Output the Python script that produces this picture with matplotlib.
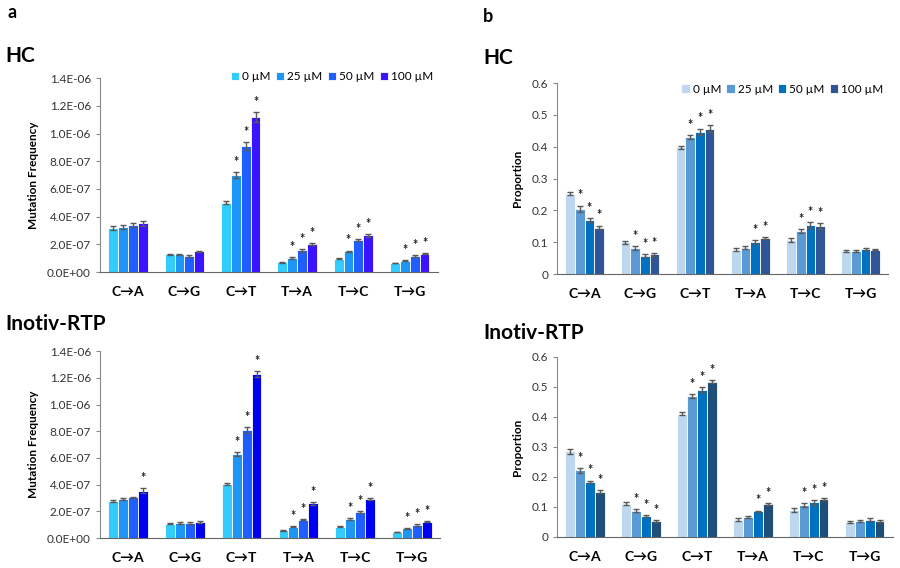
import numpy as np
import matplotlib.pyplot as plt
from matplotlib.ticker import FuncFormatter

plt.rcParams['font.family'] = ['Lato', 'DejaVu Sans']

mutations = ['C\u2192A', 'C\u2192G', 'C\u2192T', 'T\u2192A', 'T\u2192C', 'T\u2192G']
doses = ['0 \u00b5M', '25 \u00b5M', '50 \u00b5M', '100 \u00b5M']

# panel a: mutation frequency (x1e-7), rows = dose, cols = mutation type
hc_freq = np.array([
    [3.17, 1.27, 5.02, 0.70, 0.96, 0.65],
    [3.27, 1.27, 7.00, 1.01, 1.51, 0.82],
    [3.39, 1.18, 9.09, 1.56, 2.33, 1.15],
    [3.51, 1.49, 11.18, 2.02, 2.64, 1.32]]) * 1e-7
hc_freq_err = np.array([
    [0.12, 0.07, 0.08, 0.04, 0.03, 0.03],
    [0.15, 0.07, 0.20, 0.05, 0.04, 0.03],
    [0.15, 0.06, 0.28, 0.10, 0.07, 0.05],
    [0.15, 0.06, 0.38, 0.06, 0.08, 0.05]]) * 1e-7
rtp_freq = np.array([
    [2.79, 1.07, 4.04, 0.57, 0.85, 0.45],
    [2.92, 1.12, 6.28, 0.85, 1.42, 0.72],
    [3.04, 1.12, 8.08, 1.37, 1.95, 0.97],
    [3.54, 1.20, 12.27, 2.59, 2.92, 1.22]]) * 1e-7
rtp_freq_err = np.array([
    [0.06, 0.04, 0.05, 0.03, 0.04, 0.02],
    [0.06, 0.05, 0.15, 0.04, 0.06, 0.03],
    [0.06, 0.05, 0.22, 0.05, 0.07, 0.05],
    [0.20, 0.08, 0.22, 0.12, 0.06, 0.05]]) * 1e-7

# panel b: proportion
hc_prop = np.array([
    [0.252, 0.100, 0.398, 0.077, 0.107, 0.073],
    [0.205, 0.081, 0.431, 0.083, 0.135, 0.071],
    [0.170, 0.058, 0.447, 0.100, 0.154, 0.079],
    [0.146, 0.062, 0.457, 0.114, 0.151, 0.077]])
hc_prop_err = np.array([
    [0.005, 0.005, 0.005, 0.004, 0.005, 0.003],
    [0.010, 0.006, 0.007, 0.004, 0.006, 0.003],
    [0.006, 0.005, 0.010, 0.007, 0.010, 0.003],
    [0.006, 0.004, 0.010, 0.003, 0.008, 0.003]])
rtp_prop = np.array([
    [0.285, 0.110, 0.411, 0.058, 0.090, 0.049],
    [0.222, 0.088, 0.469, 0.067, 0.106, 0.054],
    [0.184, 0.070, 0.491, 0.085, 0.116, 0.058],
    [0.151, 0.052, 0.518, 0.109, 0.126, 0.053]])
rtp_prop_err = np.array([
    [0.007, 0.005, 0.006, 0.005, 0.007, 0.004],
    [0.008, 0.006, 0.006, 0.003, 0.007, 0.004],
    [0.004, 0.004, 0.008, 0.003, 0.008, 0.004],
    [0.004, 0.003, 0.006, 0.003, 0.004, 0.003]])

# significance stars (1 = star)
hc_freq_sig = np.array([
    [0, 0, 0, 0, 0, 0],
    [0, 0, 1, 1, 1, 1],
    [0, 0, 1, 1, 1, 1],
    [0, 0, 1, 1, 1, 1]])
rtp_freq_sig = np.array([
    [0, 0, 0, 0, 0, 0],
    [0, 0, 1, 1, 1, 1],
    [0, 0, 1, 1, 1, 1],
    [1, 0, 1, 1, 1, 1]])
prop_sig = np.array([
    [0, 0, 0, 0, 0, 0],
    [1, 1, 1, 0, 1, 0],
    [1, 1, 1, 1, 1, 0],
    [1, 1, 1, 1, 1, 0]])

col_a_hc = ['#33CCFF', '#1E96F5', '#1F5EFF', '#3A14FF']
col_a_rtp = ['#33CCFF', '#1E96F5', '#1F5EFF', '#0000F0']
col_b_hc = ['#BDD7EE', '#5B9BD5', '#0070C0', '#2F5597']
col_b_rtp = ['#BDD7EE', '#5B9BD5', '#0070C0', '#1F4E79']


def sci(v, pos):
    if v == 0:
        return '0.0E+00'
    e = int(np.floor(np.log10(abs(v))))
    m = v / 10**e
    return '%.1fE%+03d' % (m, e)


def draw(ax, vals, errs, sig, colors, ylim, yticks, ylabel, fmt, legend_anchor):
    x = np.arange(len(mutations))
    w = 0.175
    for i in range(len(doses)):
        xs = x + (i - 1.5) * w
        ax.bar(xs, vals[i], w, color=colors[i], edgecolor='white', linewidth=0.6,
               label=doses[i], zorder=2)
        ax.errorbar(xs, vals[i], yerr=errs[i], fmt='none', ecolor='#595959',
                    elinewidth=1, capsize=2.5, capthick=1, zorder=3)
        for j in range(len(mutations)):
            if sig[i, j]:
                ax.annotate('*', (xs[j], vals[i, j] + errs[i, j]), xytext=(0, 3),
                            textcoords='offset points', ha='center', va='bottom',
                            fontsize=9, fontweight='bold', color='#222222')
    ax.set_xlim(-0.5, len(mutations) - 0.5)
    ax.set_ylim(*ylim)
    ax.set_yticks(yticks)
    ax.yaxis.set_major_formatter(FuncFormatter(fmt))
    ax.set_xticks(x)
    ax.set_xticklabels(mutations, fontweight='bold', fontsize=10)
    ax.tick_params(axis='x', length=0, pad=10)
    ax.tick_params(axis='y', length=3, labelsize=8.5, color='#888888', labelcolor='#333333')
    for s in ['top', 'right']:
        ax.spines[s].set_visible(False)
    ax.spines['left'].set_color('#888888')
    ax.spines['bottom'].set_color('#666666')
    ax.set_ylabel(ylabel, fontsize=8.5, fontweight='bold', labelpad=6)
    ax.legend(loc='lower right', bbox_to_anchor=legend_anchor, ncol=4, frameon=False,
              fontsize=8.5, handlelength=0.7, handleheight=0.7, handletextpad=0.25,
              columnspacing=0.45, borderaxespad=0)


fig = plt.figure(figsize=(9, 5.68), dpi=100)

ax1 = fig.add_axes([0.111, 0.521, 0.3756, 0.3415])
ax2 = fig.add_axes([0.111, 0.0528, 0.378, 0.329])
ax3 = fig.add_axes([0.619, 0.5176, 0.368, 0.336])
ax4 = fig.add_axes([0.619, 0.0546, 0.373, 0.317])

yt_a = np.arange(0, 1.41e-6, 2e-7)
draw(ax1, hc_freq, hc_freq_err, hc_freq_sig, col_a_hc, (0, 1.4e-6), yt_a,
     'Mutation Frequency', sci, (1.0, 0.955))
draw(ax2, rtp_freq, rtp_freq_err, rtp_freq_sig, col_a_rtp, (0, 1.4e-6), yt_a,
     'Mutation Frequency', sci, (1.0, 1.2))
ax2.get_legend().remove()

yt_b = np.arange(0, 0.61, 0.1)
pfmt = lambda v, pos: '0' if abs(v) < 1e-9 else '%.1f' % v
draw(ax3, hc_prop, hc_prop_err, prop_sig, col_b_hc, (0, 0.6), yt_b,
     'Proportion', pfmt, (1.0, 0.915))
draw(ax4, rtp_prop, rtp_prop_err, prop_sig, col_b_rtp, (0, 0.6), yt_b,
     'Proportion', pfmt, (1.0, 1.2))
ax4.get_legend().remove()

fig.text(7 / 900, 1 - 12 / 568, 'a', fontsize=13, fontweight='bold', va='center')
fig.text(483 / 900, 1 - 16 / 568, 'b', fontsize=13, fontweight='bold', va='center')
fig.text(5 / 900, 1 - 56 / 568, 'HC', fontsize=15, fontweight='bold', va='center')
fig.text(483 / 900, 1 - 58 / 568, 'HC', fontsize=15, fontweight='bold', va='center')
fig.text(5 / 900, 1 - 324 / 568, 'Inotiv-RTP', fontsize=15, fontweight='bold', va='center')
fig.text(483 / 900, 1 - 333 / 568, 'Inotiv-RTP', fontsize=15, fontweight='bold', va='center')

fig.savefig('out.png', dpi=100)
